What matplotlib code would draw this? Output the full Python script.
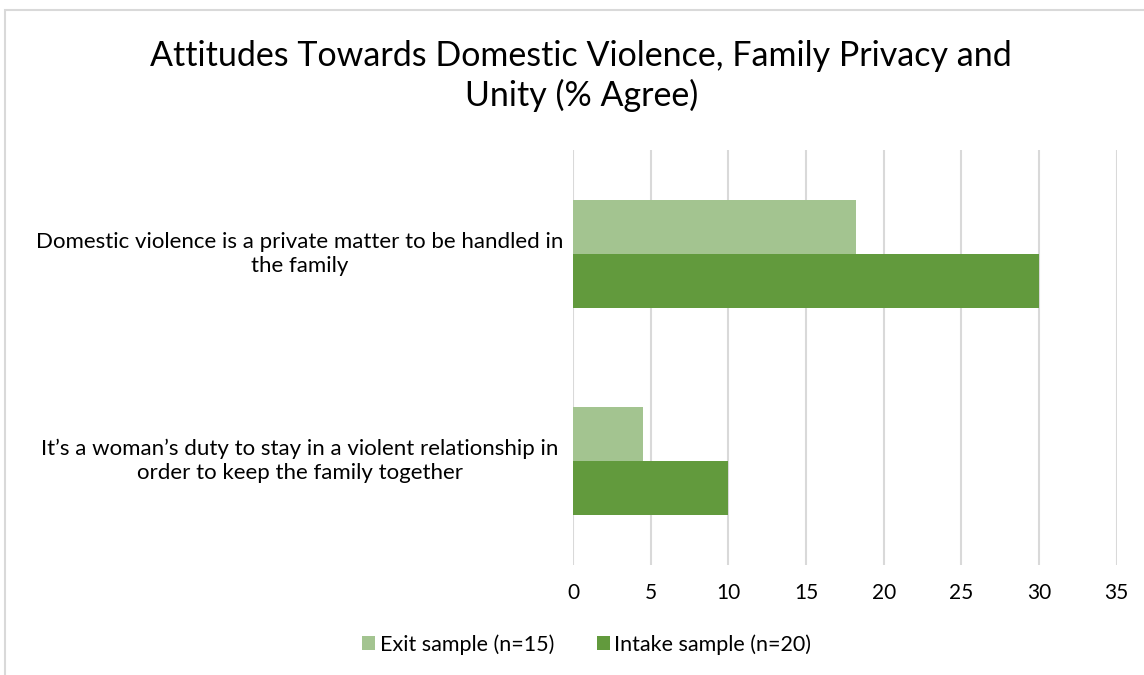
import numpy as np
import matplotlib.pyplot as plt
import matplotlib.transforms as mtransforms
from matplotlib.patches import Rectangle

plt.rcParams['font.family'] = ['Lato', 'DejaVu Sans']

# data
categories = ["It\u2019s a woman\u2019s duty to stay in a violent relationship in\norder to keep the family together",
              "Domestic violence is a private matter to be handled in\nthe family"]
exit_vals = [4.5, 18.2]
intake_vals = [10, 30]
series_names = ['Exit sample (n=15)', 'Intake sample (n=20)']
xticks = [0, 5, 10, 15, 20, 25, 30, 35]

c_exit = '#A3C490'
c_intake = '#629A3D'

fig = plt.figure(figsize=(11.44, 6.75), dpi=100)
fig.patches.append(Rectangle((5/1144, -0.1), 1.2, (675-10)/675 + 0.1, transform=fig.transFigure,
                             fill=False, edgecolor='#d9d9d9', linewidth=1.5))
ax = fig.add_axes([0.501, 0.163, 0.475, 0.615])

y = np.arange(len(categories))
h = 0.26
ax.barh(y + h/2, exit_vals, height=h, color=c_exit, label=series_names[0], zorder=3)
ax.barh(y - h/2, intake_vals, height=h, color=c_intake, label=series_names[1], zorder=3)

ax.set_xlim(0, 35)
ax.set_ylim(-0.5, 1.5)
ax.set_xticks(xticks)
ax.set_xticklabels([str(t) for t in xticks], fontsize=15)
ax.tick_params(axis='x', length=0, pad=13)
ax.set_yticks([])
ax.grid(axis='x', color='#d9d9d9', linewidth=1.5, zorder=0)
for s in ax.spines.values():
    s.set_visible(False)

trans = mtransforms.blended_transform_factory(fig.transFigure, ax.transData)
for yi, lab in zip(y, categories):
    ax.text(300/1144, yi, lab, transform=trans, ha='center', va='center',
            fontsize=16, linespacing=1.25, multialignment='center')

fig.suptitle('Attitudes Towards Domestic Violence, Family Privacy and\nUnity (% Agree)',
             x=0.508, y=0.94, fontsize=24.5, linespacing=1.25)

ax.legend(loc='center', bbox_to_anchor=(0.513, 0.045), bbox_transform=fig.transFigure,
          ncol=2, frameon=False, fontsize=15.5, handlelength=0.6, handleheight=0.6,
          handletextpad=0.2, columnspacing=2.0)

fig.savefig('out.png', dpi=100)
